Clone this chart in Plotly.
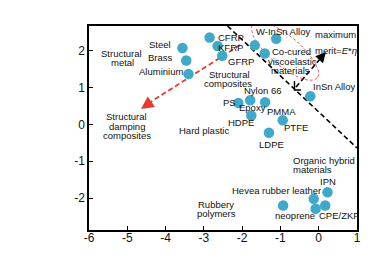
import numpy as np
import plotly.graph_objects as go

# ---------------- data ----------------
materials = ["Steel", "Brass", "Aluminium", "CFRP", "KFRP", "GFRP",
             "Composite A", "Co-cured", "W-InSn Alloy", "InSn Alloy",
             "PS", "Epoxy", "PMMA", "HDPE", "PTFE", "LDPE",
             "neoprene", "Hevea rubber leather", "IPN", "CPE/ZKF", "Rubber B"]
lg_eta = [-3.56, -3.46, -3.40, -2.85, -2.64, -2.52,
          -1.67, -1.41, -1.11, -0.22,
          -2.10, -1.79, -1.40, -1.76, -0.94, -1.30,
          -0.93, -0.13, 0.23, 0.17, -0.08]
lg_E = [2.07, 1.73, 1.36, 2.35, 2.12, 1.86,
        2.14, 1.92, 2.32, 0.76,
        0.58, 0.65, 0.60, 0.24, 0.11, -0.23,
        -2.20, -2.02, -1.84, -2.20, -2.29]

x_ticks = [-6, -5, -4, -3, -2, -1, 0, 1]
y_ticks = [-2, -1, 0, 1, 2]

# ---------------- layout geometry ----------------
W, H = 385, 270
L, R, T, B = 81, 36, 18, 48
XMIN, XMAX = -6, 1
YMIN, YMAX = -2.864, 2.664
PW, PH = W - L - R, H - T - B


def dx(px):
    return XMIN + (px - L) / PW * (XMAX - XMIN)


def dy(py):
    return YMAX - (py - T) / PH * (YMAX - YMIN)


FONT = "Liberation Sans, Arial, sans-serif"
MARK = "#3fa9c9"
RED = "#e8392b"

fig = go.Figure()

# black dashed boundary line
fig.add_trace(go.Scatter(x=[dx(219.5), dx(349)], y=[dy(18), dy(140)], mode="lines",
                         line=dict(color="black", width=1.6, dash="5px,3px"),
                         hoverinfo="skip", showlegend=False))

# black dashed arrow (maximum merit)
fig.add_trace(go.Scatter(x=[dx(288), dx(312)], y=[dy(79), dy(51)], mode="lines",
                         line=dict(color="black", width=1.6, dash="5px,3px"),
                         hoverinfo="skip", showlegend=False))
# right angle mark
fig.add_trace(go.Scatter(x=[dx(286.5), dx(286.5), dx(293)], y=[dy(73), dy(82), dy(82)],
                         mode="lines", line=dict(color="black", width=1.4),
                         hoverinfo="skip", showlegend=False))

# red dashed arrow
fig.add_trace(go.Scatter(x=[dx(232), dx(141)], y=[dy(37), dy(95)], mode="lines",
                         line=dict(color=RED, width=1.8, dash="5px,3px"),
                         hoverinfo="skip", showlegend=False))

# red dotted ellipse
t = np.linspace(0, 2 * np.pi, 120)
cx, cy, a, b, ang = 277, 43, 42, 15, np.deg2rad(40)
ex = cx + a * np.cos(t) * np.cos(ang) - b * np.sin(t) * np.sin(ang)
ey = cy + a * np.cos(t) * np.sin(ang) + b * np.sin(t) * np.cos(ang)
fig.add_trace(go.Scatter(x=[dx(v) for v in ex], y=[dy(v) for v in ey], mode="lines",
                         line=dict(color=RED, width=0.8, dash="3px,2px"),
                         hoverinfo="skip", showlegend=False))

# data points
fig.add_trace(go.Scatter(x=lg_eta, y=lg_E, mode="markers", text=materials,
                         marker=dict(size=10.5, color=MARK, line=dict(width=0)),
                         showlegend=False))

annotations = []

# arrowheads
annotations.append(dict(x=dx(318), y=dy(44), ax=dx(310), ay=dy(53), xref="x", yref="y",
                        axref="x", ayref="y", text="", showarrow=True, arrowhead=2,
                        arrowsize=1.3, arrowwidth=1.6, arrowcolor="black", standoff=0))
annotations.append(dict(x=dx(133), y=dy(101), ax=dx(143), ay=dy(94), xref="x", yref="y",
                        axref="x", ayref="y", text="", showarrow=True, arrowhead=2,
                        arrowsize=1.4, arrowwidth=1.8, arrowcolor=RED, standoff=0))

labels = [
    ("Structural", 113, 45, "center"), ("metal", 114, 54, "center"),
    ("Steel", 165, 36, "right"), ("Brass", 167, 49.5, "right"),
    ("Aluminium", 177, 63, "right"),
    ("CFRP", 208, 29.5, "left"), ("KFRP", 208, 39, "left"), ("GFRP", 218, 53.5, "left"),
    ("Structural", 221, 66, "center"), ("composites", 220, 75.5, "center"),
    ("W-InSn Alloy", 245.5, 23.5, "left"),
    ("maximum", 305, 26, "left"), ("merit=<i>E</i>*<i>η</i>", 305, 42, "left"),
    ("Co-cured", 283, 43.5, "center"), ("viscoelastic", 284.5, 53, "center"),
    ("materials", 282.5, 62, "center"),
    ("InSn Alloy", 302.5, 78.5, "left"),
    ("Nylon 66", 234, 82.5, "left"), ("PS", 213, 94, "left"),
    ("Epoxy", 229, 99, "left"), ("PMMA", 257, 103, "left"),
    ("HDPE", 218, 114.5, "left"), ("PTFE", 274, 119, "left"),
    ("Hard plastic", 169, 122, "left"), ("LDPE", 249, 136, "left"),
    ("Structural", 118.5, 108.5, "center"), ("damping", 118.5, 118, "center"),
    ("composites", 118.5, 127, "center"),
    ("Organic hybrid", 283, 152, "left"), ("materials", 283, 161, "left"),
    ("IPN", 310, 173.5, "left"), ("Hevea rubber leather", 221.5, 182, "left"),
    ("Rubbery", 208, 196, "center"), ("polymers", 208.5, 205.5, "center"),
    ("neoprene", 265, 207.5, "left"), ("CPE/ZKF", 309, 207.5, "left"),
]
for txt, px, py, anc in labels:
    annotations.append(dict(x=dx(px), y=dy(py), xref="x", yref="y", text=txt,
                            showarrow=False, xanchor=anc, yanchor="middle",
                            font=dict(family=FONT, size=9.5, color="#111111")))

# axis titles
annotations.append(dict(x=dx(35), y=dy(138), xref="x", yref="y",
                        text="lg(<i>E</i>/GPa)", showarrow=False, textangle=-90,
                        xanchor="center", yanchor="middle",
                        font=dict(family=FONT, size=13, color="#111111")))
annotations.append(dict(x=dx(203), y=dy(252.5), xref="x", yref="y",
                        text="lg(<i>η</i>)", showarrow=False,
                        xanchor="center", yanchor="middle",
                        font=dict(family=FONT, size=13, color="#111111")))

axis_common = dict(showgrid=False, zeroline=False, showline=True, mirror=True,
                   linecolor="black", linewidth=1.5, ticks="inside", ticklen=4,
                   tickwidth=1.2, tickcolor="black",
                   tickfont=dict(family=FONT, size=12, color="#111111"))

fig.update_layout(
    width=W, height=H,
    margin=dict(l=L, r=R, t=T, b=B),
    paper_bgcolor="white", plot_bgcolor="white",
    xaxis=dict(range=[XMIN, XMAX], tickvals=x_ticks, ticklabelstandoff=-4,
               ticktext=[str(v) for v in x_ticks], **axis_common),
    yaxis=dict(range=[YMIN, YMAX], tickvals=y_ticks,
               ticktext=[str(v) for v in y_ticks], **axis_common),
    annotations=annotations,
    showlegend=False,
)

fig.write_html("out.html")
